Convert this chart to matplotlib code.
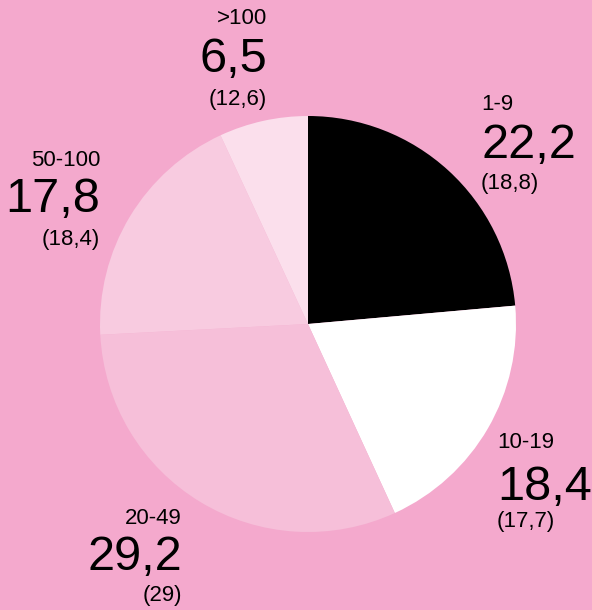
import matplotlib
matplotlib.use('Agg')
import matplotlib.pyplot as plt

plt.rcParams['font.family'] = ['Liberation Sans', 'DejaVu Sans']

# data
groups = ['1-9', '10-19', '20-49', '50-100', '>100']
shares = [22.2, 18.4, 29.2, 17.8, 6.5]
previous = ['(18,8)', '(17,7)', '(29)', '(18,4)', '(12,6)']
share_labels = ['22,2', '18,4', '29,2', '17,8', '6,5']

bg = '#F4A9CD'
colors = ['#000000', '#FFFFFF', '#F6BFD9', '#F8CBE0', '#FBDFEC']

W, H = 592, 610
fig = plt.figure(figsize=(W / 100, H / 100), dpi=100, facecolor=bg)
ax = fig.add_axes([0, 0, 1, 1])
ax.set_facecolor(bg)
ax.axis('off')

ax.pie(shares, colors=colors, startangle=90, counterclock=False,
       center=(308, H - 324), radius=208, wedgeprops=dict(linewidth=0))
ax.set_xlim(0, W)
ax.set_ylim(0, H)
ax.set_aspect('equal')

# label anchors: x, y of group name, y of big number, y of previous, alignment
anchors = {
    '1-9':    (481, 104, 146, 183, 'left'),
    '10-19':  (497, 443, 487, 521, 'left'),
    '20-49':  (182, 518, 557, 595, 'right'),
    '50-100': (100, 160, 200, 240, 'right'),
    '>100':   (267, 19, 60, 99, 'right'),
}

for g, big, prev in zip(groups, share_labels, previous):
    x, y1, y2, y3, ha = anchors[g]
    ax.text(x, H - y1, g, fontsize=16, ha=ha, va='center', color='black')
    ax.text(x, H - y2, big, fontsize=35, ha=ha, va='center', color='black')
    ax.text(x, H - y3, prev, fontsize=16, ha=ha, va='center', color='black')

fig.savefig('out.png', dpi=100, facecolor=bg)
